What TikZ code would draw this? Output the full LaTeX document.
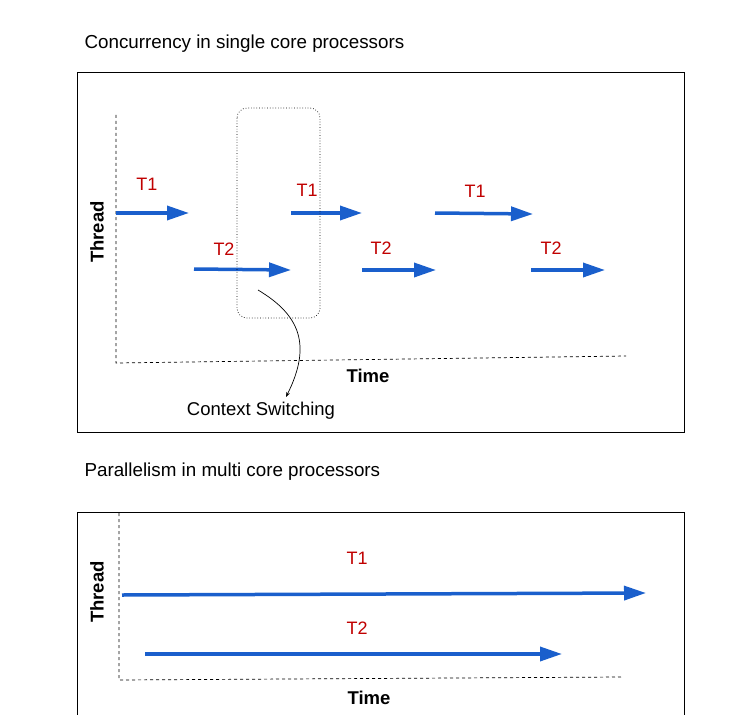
\documentclass[tikz,border=0pt]{standalone}
\usepackage{fontspec}
\setmainfont{Liberation Sans}
\usetikzlibrary{arrows.meta}
\definecolor{tblue}{HTML}{1A5FCC}
\definecolor{tred}{HTML}{C00000}
\begin{document}
\begin{tikzpicture}[x=1pt,y=-1pt,
  thr/.style={tblue,line width=3.5pt,-{Triangle[length=22pt,width=14pt]}},
  lab/.style={text=tred,font=\fontsize{18}{20}\selectfont},
  ttl/.style={font=\fontsize{18.8}{21}\selectfont,anchor=west},
  ax/.style={dashed,line width=0.7pt},
  axl/.style={font=\bfseries\fontsize{18.5}{20}\selectfont}]
\useasboundingbox (0,0) rectangle (754,714);
\node[ttl] (t1) at (81,44) {Concurrency in single core processors};
\draw[line width=0.8pt] (77,72) rectangle (684,432);
\coordinate (o1) at (116,363);
\draw[ax] (116,115) -- (o1) -- (626,356);
\node[axl,rotate=90] (th1) at (97,232) {Thread};
\node[axl] (tm1) at (368,376) {Time};
\coordinate (a1) at (116,213); \coordinate (b1) at (189,213);
\coordinate (a2) at (194,269); \coordinate (b2) at (291,270);
\coordinate (a3) at (291,213); \coordinate (b3) at (362,213);
\coordinate (a4) at (362,270); \coordinate (b4) at (436,270);
\coordinate (a5) at (435,213); \coordinate (b5) at (533,214);
\coordinate (a6) at (531,270); \coordinate (b6) at (605,270);
\foreach \i in {1,...,6} {\draw[thr] (a\i) -- (b\i);}
\node[lab] (l1) at (147,184) {T1};
\node[lab] (l2) at (224,249) {T2};
\node[lab] (l3) at (307,190) {T1};
\node[lab] (l4) at (381,248) {T2};
\node[lab] (l5) at (475,191) {T1};
\node[lab] (l6) at (551,248) {T2};
\draw[dotted,rounded corners=10pt,line width=0.7pt] (237,108) rectangle (320,318);
\coordinate (cs) at (258,290);
\coordinate (ce) at (286,397);
\node[font=\fontsize{18.5}{20}\selectfont] (ctx) at (261,411) {Context Switching};
\draw[line width=0.7pt,-{Stealth[length=5pt]}] (cs) .. controls (300,315) and (312,345) .. (ce);
\node[ttl] (t2) at (81,472) {Parallelism in multi core processors};
\draw[line width=0.8pt] (77,716) -- (77,512) -- (684,512) -- (684,716);
\coordinate (o2) at (119,680);
\draw[ax] (119,513) -- (o2) -- (621,677);
\node[axl,rotate=90] (th2) at (97,592) {Thread};
\node[axl] (tm2) at (369,698) {Time};
\coordinate (p1) at (122,595); \coordinate (q1) at (646,593);
\coordinate (p2) at (145,654); \coordinate (q2) at (562,654);
\draw[thr] (p1) -- (q1);
\draw[thr] (p2) -- (q2);
\node[lab] (m1) at (357,558) {T1};
\node[lab] (m2) at (357,628) {T2};
\end{tikzpicture}
\end{document}
